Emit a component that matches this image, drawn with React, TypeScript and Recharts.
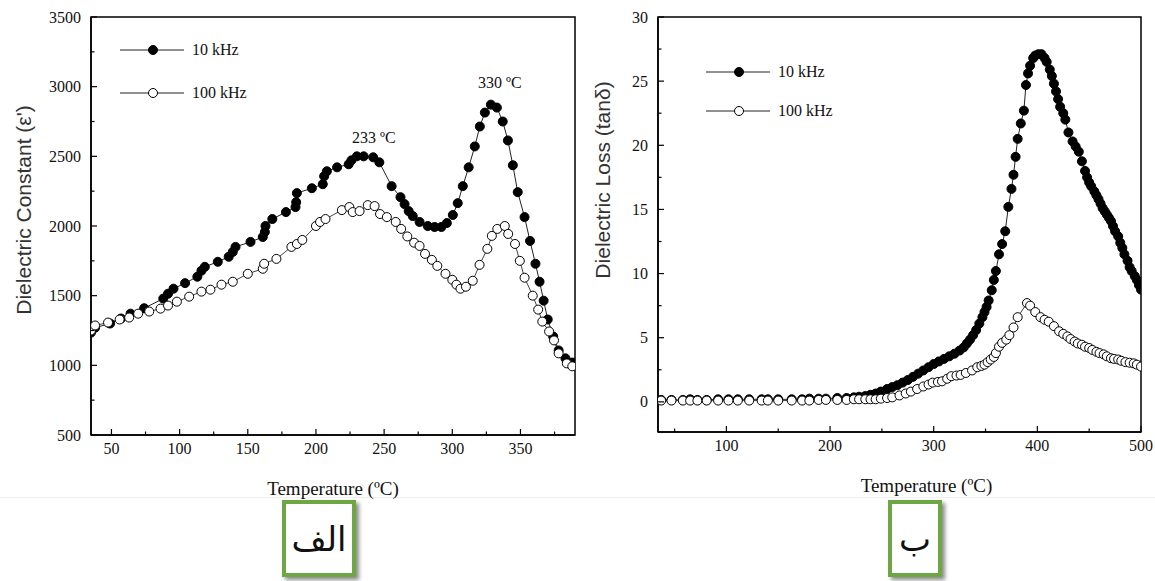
import React from 'react';
import { LineChart, Line, XAxis, YAxis, ReferenceArea, ReferenceDot, Legend } from 'recharts';

// ---------- Panel (الف): dielectric constant ----------
const tempA10 = [35, 38, 49, 57, 64, 74, 88, 91.5, 95.5, 104, 113, 116, 118.5, 128, 136, 139, 141, 152, 161, 162.5, 163, 168, 178, 185, 185.5, 186, 197, 205, 206, 208, 215.5, 224, 226, 230, 235, 242, 246.5, 255.5, 262, 265, 268, 271, 276, 282, 287, 292, 296, 300.4, 304, 307.7, 312, 316.5, 320.2, 323.9, 328.3, 332.7, 337, 340.8, 344.4, 348, 353, 357, 361, 364, 367, 370, 374, 378, 383, 388];
const epsA10 = [1235, 1270, 1300, 1336, 1371, 1410, 1479, 1514, 1550, 1590, 1636, 1679, 1707, 1743, 1779, 1814, 1850, 1886, 1921, 1957, 2000, 2050, 2100, 2136, 2171, 2236, 2271, 2300, 2357, 2393, 2421, 2443, 2471, 2500, 2500, 2493, 2457, 2286, 2207, 2157, 2107, 2071, 2029, 2000, 1993, 1993, 2021, 2079, 2164, 2286, 2421, 2571, 2714, 2814, 2871, 2850, 2750, 2614, 2436, 2243, 2064, 1893, 1729, 1600, 1464, 1329, 1207, 1107, 1050, 1020];
const tempA100 = [35, 38, 47.5, 56, 63, 69.6, 77.7, 86, 91.5, 98, 107, 116, 122.6, 130.7, 139, 150, 161, 162, 171, 182, 186, 190, 200, 203, 207, 219, 224.5, 227, 232, 238, 243, 247, 252, 258.5, 262.5, 267, 272, 276, 280, 285, 289, 295, 300, 303, 306, 310, 315, 320, 325.7, 329, 333, 338.5, 341, 346, 349.5, 353, 359, 363, 366, 371, 374.6, 378, 384, 388];
const epsA100 = [1250, 1286, 1307, 1329, 1343, 1371, 1386, 1407, 1429, 1457, 1493, 1529, 1543, 1579, 1600, 1657, 1693, 1729, 1764, 1850, 1871, 1900, 2000, 2029, 2050, 2114, 2136, 2100, 2107, 2150, 2143, 2086, 2064, 2029, 1979, 1925, 1880, 1857, 1800, 1757, 1714, 1657, 1614, 1579, 1550, 1564, 1607, 1721, 1836, 1929, 1979, 2000, 1943, 1871, 1750, 1629, 1500, 1400, 1314, 1243, 1179, 1086, 1014, 993];

const xTicksA = [50, 75, 100, 125, 150, 175, 200, 225, 250, 275, 300, 325, 350, 375];
const xMajorA = [50, 100, 150, 200, 250, 300, 350];
const yTicksA = [500, 750, 1000, 1250, 1500, 1750, 2000, 2250, 2500, 2750, 3000, 3250, 3500];
const yMajorA = [500, 1000, 1500, 2000, 2500, 3000, 3500];

// ---------- Panel (ب): dielectric loss ----------
const tempB10 = [37, 47, 58, 65, 72, 81, 92, 102, 111, 122, 134, 140, 150, 163, 173, 180, 189, 196, 207, 216, 223, 228, 234, 239, 244, 249, 255, 260, 265, 270, 275, 280, 285, 290, 295, 300, 305, 310, 315, 320, 325, 329, 332, 335, 338, 341, 344, 347, 349, 351, 353, 356, 358, 360, 363, 366, 369, 372, 375, 377, 379, 381, 384, 387, 389, 391, 393, 396, 398, 401, 404, 407, 409, 412, 414, 416, 418, 420, 422, 425, 427, 430, 434, 437, 440, 443, 446, 448, 450, 452, 455, 457, 459, 461, 463, 465, 467, 469, 471, 473, 475, 478, 480, 482, 484, 487, 489, 491, 494, 496, 498, 500];
const lossB10 = [0.15, 0.15, 0.15, 0.2, 0.15, 0.15, 0.2, 0.2, 0.2, 0.2, 0.2, 0.2, 0.2, 0.2, 0.2, 0.25, 0.25, 0.25, 0.3, 0.3, 0.35, 0.4, 0.45, 0.55, 0.65, 0.8, 1.0, 1.15, 1.3, 1.5, 1.7, 1.95, 2.2, 2.45, 2.7, 2.95, 3.15, 3.35, 3.55, 3.75, 4.0, 4.25, 4.55, 4.85, 5.2, 5.6, 6.1, 6.6, 7.0, 7.4, 7.9, 8.7, 9.5, 10.2, 11.5, 12.3, 13.3, 15.2, 16.6, 17.7, 19.1, 20.5, 21.7, 22.7, 24.7, 25.6, 26.2, 26.8, 27.0, 27.1, 27.1, 26.8, 26.5, 25.9, 25.4, 24.8, 24.2, 23.6, 23.0, 22.5, 22.0, 21.0, 20.3, 19.9, 19.5, 18.75, 18.0, 17.5, 17.1, 16.8, 16.4, 16.1, 15.8, 15.45, 15.1, 14.85, 14.6, 14.35, 14.1, 13.7, 13.3, 12.9, 12.4, 12.0, 11.5, 11.0, 10.5, 10.2, 9.8, 9.5, 9.1, 8.75];
const tempB100 = [37, 47, 58, 65, 72, 81, 92, 102, 111, 122, 134, 140, 150, 163, 173, 180, 189, 196, 207, 216, 223, 228, 234, 239, 244, 249, 255, 260, 267, 273, 278, 284, 290, 295, 299, 304, 308, 313, 317, 322, 326, 331, 337, 342, 346, 349, 352, 355, 358, 360, 363, 366, 370, 373, 377, 381, 390, 393, 398, 403, 407, 411, 416, 421, 425, 429, 432, 436, 439, 443, 446, 450, 453, 457, 460, 464, 467, 471, 474, 478, 481, 485, 489, 493, 496, 500];
const lossB100 = [0.1, 0.1, 0.1, 0.1, 0.1, 0.1, 0.1, 0.1, 0.1, 0.1, 0.1, 0.1, 0.1, 0.1, 0.1, 0.1, 0.15, 0.15, 0.15, 0.15, 0.2, 0.2, 0.2, 0.2, 0.2, 0.25, 0.3, 0.35, 0.5, 0.65, 0.8, 1.0, 1.2, 1.35, 1.5, 1.55, 1.6, 1.8, 2.0, 2.05, 2.1, 2.25, 2.45, 2.7, 2.8, 2.9, 3.1, 3.3, 3.5, 3.8, 4.3, 4.6, 4.85, 5.2, 5.8, 6.6, 7.7, 7.5, 7.0, 6.6, 6.4, 6.25, 5.9, 5.5, 5.3, 5.1, 4.9, 4.7, 4.55, 4.45, 4.3, 4.2, 4.05, 3.9, 3.8, 3.7, 3.55, 3.4, 3.35, 3.3, 3.2, 3.1, 3.05, 3.0, 2.9, 2.75];

const xTicksB = [50, 100, 150, 200, 250, 300, 350, 400, 450, 500];
const xMajorB = [100, 200, 300, 400, 500];
const yTicksB = [0, 2.5, 5, 7.5, 10, 12.5, 15, 17.5, 20, 22.5, 25, 27.5, 30];
const yMajorB = [0, 5, 10, 15, 20, 25, 30];

const seriesNames = ['10 kHz', '100 kHz'];
const peakLabels = ['233 ºC', '330 ºC'];
const xTitle = 'Temperature (ºC)';
const yTitleA = "Dielectric Constant (ε')";
const yTitleB = 'Dielectric Loss (tanδ)';
const panelLabels = ['الف', 'ب'];

const zip = (xs: number[], ys: number[]) => xs.map((t, i) => ({ t, v: ys[i] }));
const dA10 = zip(tempA10, epsA10);
const dA100 = zip(tempA100, epsA100);
const dB10 = zip(tempB10, lossB10);
const dB100 = zip(tempB100, lossB100);

const SERIF = '"Liberation Serif", "Times New Roman", serif';
const SANS = '"Liberation Sans", Arial, sans-serif';

const makeXTick = (majors: number[]) => (props: any) => {
  const { x, y, payload } = props;
  const major = majors.includes(payload.value);
  return (
    <g>
      <line x1={x} x2={x} y1={y} y2={y - (major ? 6 : 3.5)} stroke="#000" strokeWidth={1.2} />
      {major && (
        <text x={x} y={y + 19} textAnchor="middle" fontFamily={SERIF} style={{ fontFamily: SERIF }} fontSize={16} fill="#111">
          {payload.value}
        </text>
      )}
    </g>
  );
};

const makeYTick = (majors: number[]) => (props: any) => {
  const { x, y, payload } = props;
  const major = majors.includes(payload.value);
  return (
    <g>
      <line x1={x} x2={x + (major ? 6 : 3.5)} y1={y} y2={y} stroke="#000" strokeWidth={1.2} />
      {major && (
        <text x={x - 10} y={y} dy="0.35em" textAnchor="end" fontFamily={SERIF} style={{ fontFamily: SERIF }} fontSize={16} fill="#111">
          {payload.value}
        </text>
      )}
    </g>
  );
};

const xTitleContent = (shift: number) => (props: any) => {
  const vb = props.viewBox;
  return (
    <text x={vb.x + vb.width / 2 + shift} y={vb.y + 60} textAnchor="middle" style={{ fontFamily: SERIF }} fontSize={19} fill="#111">
      {xTitle}
    </text>
  );
};

const yTitleContent = (title: string, dx: number, cy: number) => (props: any) => {
  const vb = props.viewBox;
  const x = vb.x + vb.width - dx;
  return (
    <text x={x} y={cy} transform={`rotate(-90 ${x} ${cy})`} textAnchor="middle" dominantBaseline="central" style={{ fontFamily: SANS }} fontSize={21} fill="#333">
      {title}
    </text>
  );
};

const legendContent = (rowGap: number) => () => (
  <div style={{ fontFamily: SERIF, fontSize: 16, color: '#111' }}>
    {seriesNames.map((n, i) => (
      <div key={n} style={{ display: 'flex', alignItems: 'center', height: 16, marginBottom: i === 0 ? rowGap - 16 : 0 }}>
        <svg width={72} height={16}>
          <line x1={0} x2={64} y1={8} y2={8} stroke="#222" strokeWidth={1} />
          <circle cx={33} cy={8} r={4.5} fill={i === 0 ? '#000' : '#fff'} stroke="#000" strokeWidth={1} />
        </svg>
        <span style={{ marginLeft: 0, lineHeight: '16px' }}>{n}</span>
      </div>
    ))}
  </div>
);

const filledDot = { r: 4.5, fill: '#000', stroke: '#000', strokeWidth: 1 };
const openDot = { r: 4.5, fill: '#fff', stroke: '#000', strokeWidth: 1 };

export default function App() {
  return (
    <div style={{ position: 'absolute', left: 0, top: 0, width: 1155, height: 581, background: '#fff', overflow: 'hidden' }}>
      <div style={{ position: 'absolute', left: 0, top: 497, width: 1155, height: 1, background: '#efefef' }} />

      <div style={{ position: 'absolute', left: 0, top: 0 }}>
        <LineChart width={580} height={581} margin={{ top: 17, right: 5, bottom: 145, left: 90 }}>
          <XAxis
            type="number"
            dataKey="t"
            domain={[35, 390]}
            allowDataOverflow
            ticks={xTicksA}
            interval={0}
            height={1}
            tickSize={0}
            tickMargin={0}
            tick={makeXTick(xMajorA)}
            tickLine={false}
            axisLine={{ stroke: '#000', strokeWidth: 1.5 }}
            label={{ content: xTitleContent(0) } as any}
          />
          <YAxis
            type="number"
            dataKey="v"
            domain={[500, 3500]}
            allowDataOverflow
            ticks={yTicksA}
            interval={0}
            width={1}
            tickSize={0}
            tickMargin={0}
            tick={makeYTick(yMajorA)}
            tickLine={false}
            axisLine={{ stroke: '#000', strokeWidth: 1.5 }}
            label={{ content: yTitleContent(yTitleA, 68, 210) } as any}
          />
          <ReferenceArea x1={35} x2={390} y1={500} y2={3500} fill="none" stroke="#000" strokeWidth={1.5} ifOverflow="visible" />
          <Line data={dA10} dataKey="v" name={seriesNames[0]} stroke="#222" strokeWidth={1} dot={filledDot} activeDot={false} isAnimationActive={false} />
          <Line data={dA100} dataKey="v" name={seriesNames[1]} stroke="#444" strokeWidth={1} dot={openDot} activeDot={false} isAnimationActive={false} />
          <ReferenceDot x={242.4} y={2636} r={0} ifOverflow="visible" label={{ value: peakLabels[0], position: 'center', fontFamily: SERIF, fontSize: 16, fill: '#111' } as any} />
          <ReferenceDot x={334.9} y={3029} r={0} ifOverflow="visible" label={{ value: peakLabels[1], position: 'center', fontFamily: SERIF, fontSize: 16, fill: '#111' } as any} />
          <Legend layout="horizontal" verticalAlign="middle" align="center" content={legendContent(43)} wrapperStyle={{ left: 120, top: 42, width: 160, height: 70 }} />
        </LineChart>
      </div>

      <div style={{ position: 'absolute', left: 580, top: 0 }}>
        <LineChart width={575} height={581} margin={{ top: 17, right: 14, bottom: 148, left: 77 }}>
          <XAxis
            type="number"
            dataKey="t"
            domain={[34, 500]}
            allowDataOverflow
            ticks={xTicksB}
            interval={0}
            height={1}
            tickSize={0}
            tickMargin={0}
            tick={makeXTick(xMajorB)}
            tickLine={false}
            axisLine={{ stroke: '#000', strokeWidth: 1.5 }}
            label={{ content: xTitleContent(27) } as any}
          />
          <YAxis
            type="number"
            dataKey="v"
            domain={[-2.35, 30]}
            allowDataOverflow
            ticks={yTicksB}
            interval={0}
            width={1}
            tickSize={0}
            tickMargin={0}
            tick={makeYTick(yMajorB)}
            tickLine={false}
            axisLine={{ stroke: '#000', strokeWidth: 1.5 }}
            label={{ content: yTitleContent(yTitleB, 56, 180) } as any}
          />
          <ReferenceArea x1={34} x2={500} y1={-2.35} y2={30} fill="none" stroke="#000" strokeWidth={1.5} ifOverflow="visible" />
          <Line data={dB10} dataKey="v" name={seriesNames[0]} stroke="#222" strokeWidth={1} dot={filledDot} activeDot={false} isAnimationActive={false} />
          <Line data={dB100} dataKey="v" name={seriesNames[1]} stroke="#444" strokeWidth={1} dot={openDot} activeDot={false} isAnimationActive={false} />
          <Legend layout="horizontal" verticalAlign="middle" align="center" content={legendContent(39)} wrapperStyle={{ left: 126, top: 64, width: 160, height: 70 }} />
        </LineChart>
      </div>

      {[{ left: 282, width: 74, text: panelLabels[0] }, { left: 888, width: 54, text: panelLabels[1] }].map((b) => (
        <div
          key={b.text}
          style={{
            position: 'absolute',
            left: b.left,
            top: 500,
            width: b.width,
            height: 77,
            boxSizing: 'border-box',
            border: '4px solid #6fa644',
            boxShadow: '3px 3px 4px rgba(0,0,0,0.45)',
            background: '#fff',
            display: 'flex',
            alignItems: 'center',
            justifyContent: 'center',
            fontFamily: '"DejaVu Sans", sans-serif',
            fontSize: 34,
            color: '#111',
            direction: 'rtl',
          }}
        >
          {b.text}
        </div>
      ))}
    </div>
  );
}
